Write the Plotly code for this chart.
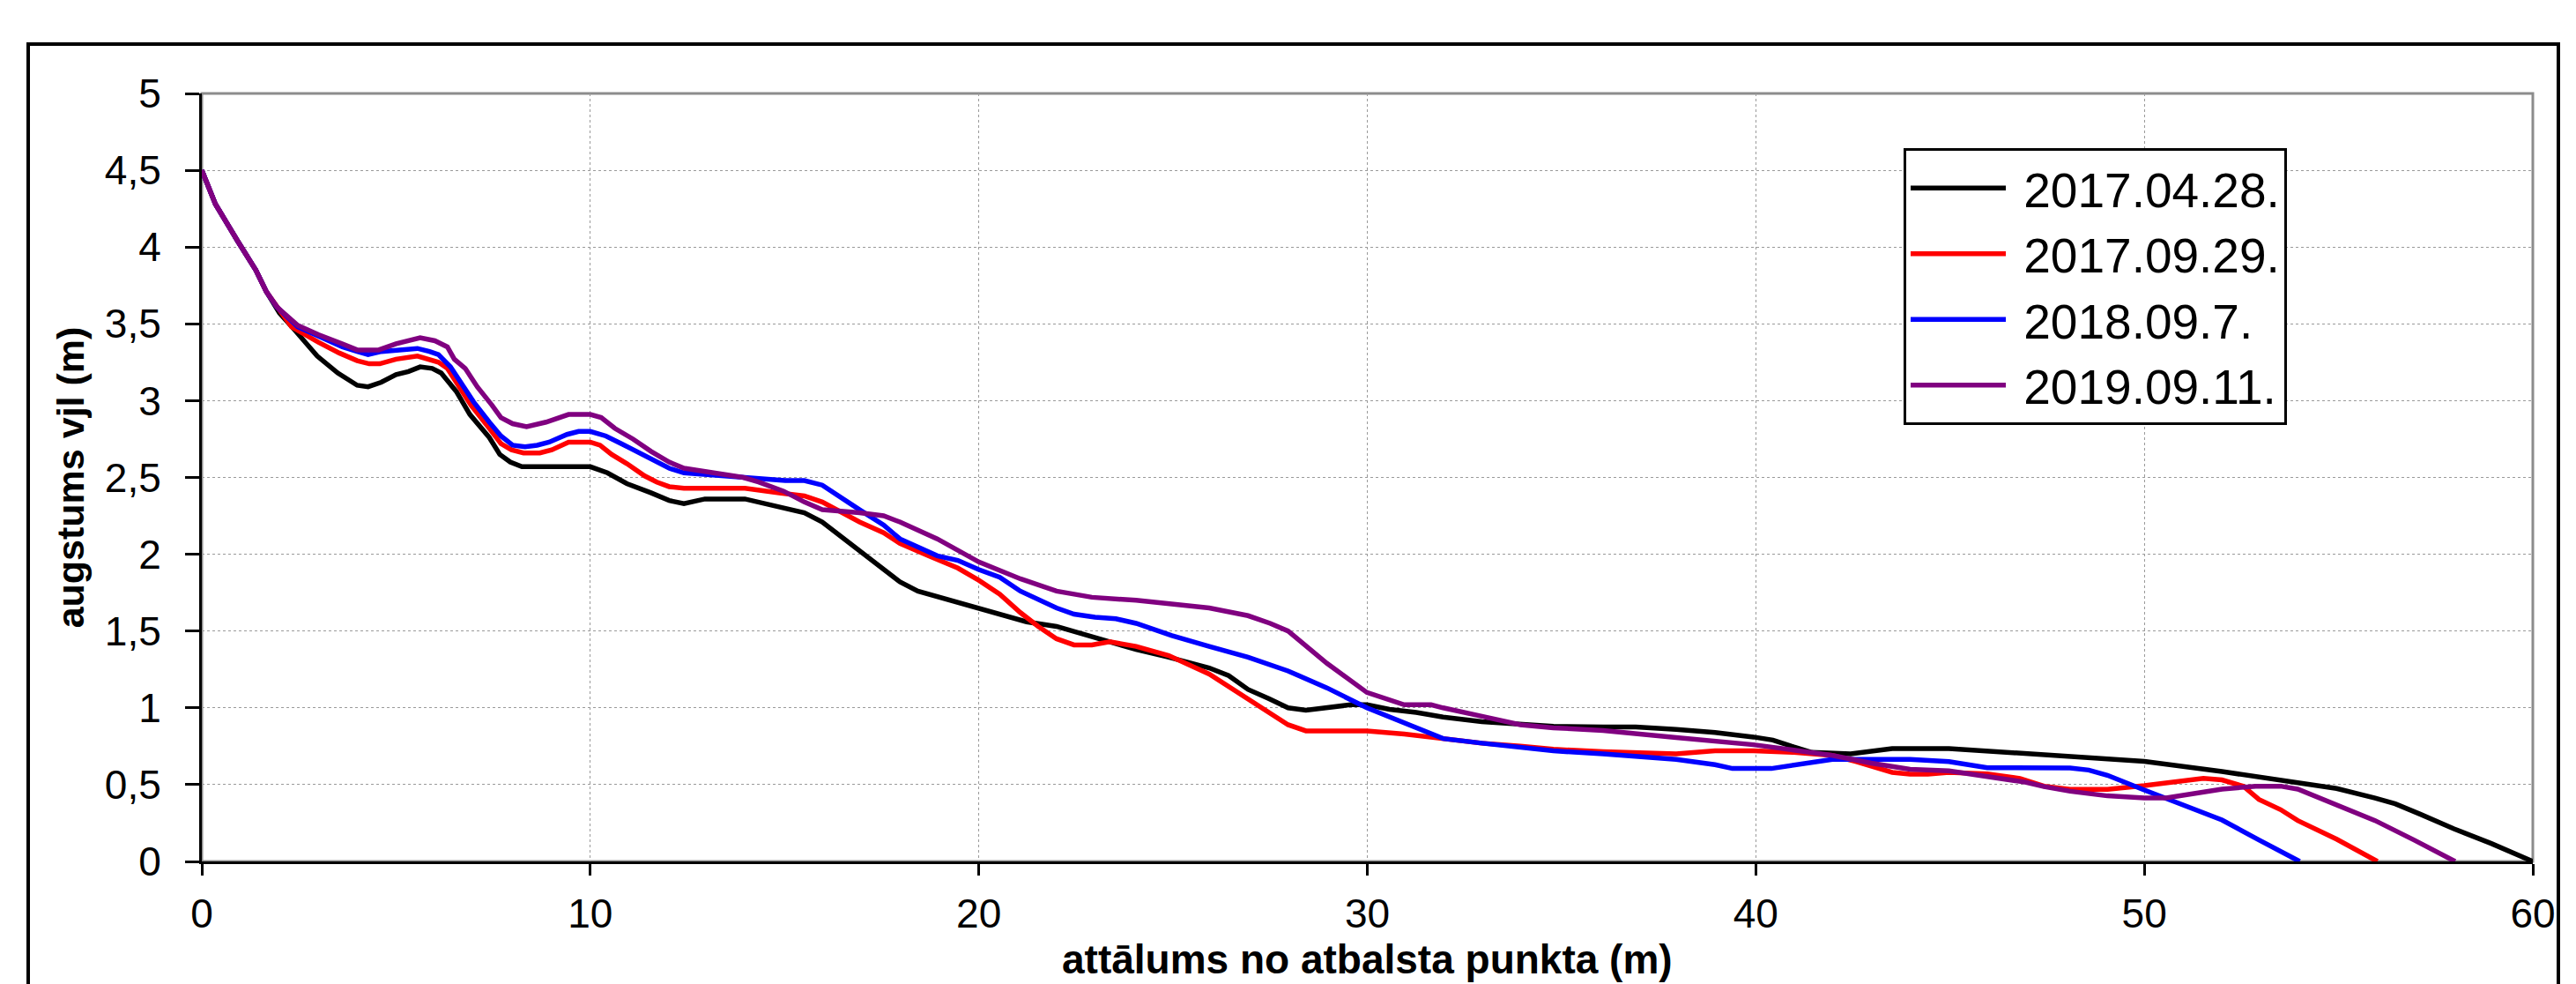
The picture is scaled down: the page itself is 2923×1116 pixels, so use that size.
import plotly.graph_objects as go

# ---------------- data ----------------
series_names = ["2017.04.28.", "2017.09.29.", "2018.09.7.", "2019.09.11."]
series_colors = ["#000000", "#FF0000", "#0000FF", "#800080"]

dist_2017_04 = [0, 0.35, 0.92, 1.39, 1.66, 2.0, 2.39, 2.97, 3.5, 4.0, 4.28, 4.62, 5.0, 5.32, 5.62,
                5.93, 6.16, 6.55, 6.9, 7.4, 7.67, 7.94, 8.24, 10.0, 10.44, 10.94, 11.56, 12.03,
                12.41, 12.95, 13.98, 14.86, 15.51, 15.97, 16.93, 17.97, 18.43, 19.39, 20.0, 20.54,
                21.23, 22.0, 22.91, 24.05, 24.89, 25.93, 26.43, 26.93, 27.46, 27.96, 28.42, 28.96,
                29.57, 29.99, 30.57, 31.26, 31.95, 32.95, 33.94, 34.79, 36.07, 36.91, 37.95, 38.95,
                39.94, 40.44, 40.98, 41.44, 42.44, 43.51, 44.97, 45.96, 46.96, 48.09, 50.0, 52.0,
                53.95, 54.95, 55.94, 56.46, 57.1, 57.97, 58.93, 60.0]
height_2017_04 = [4.5, 4.28, 4.04, 3.85, 3.71, 3.57, 3.46, 3.29, 3.18, 3.10, 3.09, 3.12, 3.17, 3.19, 3.22,
                  3.21, 3.18, 3.06, 2.91, 2.76, 2.65, 2.60, 2.57, 2.57, 2.53, 2.46, 2.40, 2.35,
                  2.33, 2.36, 2.36, 2.31, 2.27, 2.21, 2.02, 1.82, 1.76, 1.69, 1.65, 1.61,
                  1.56, 1.53, 1.46, 1.38, 1.33, 1.26, 1.21, 1.12, 1.06, 1.00, 0.985, 1.00,
                  1.02, 1.02, 0.99, 0.97, 0.94, 0.91, 0.89, 0.88, 0.875, 0.876, 0.86, 0.84,
                  0.81, 0.79, 0.745, 0.71, 0.70, 0.735, 0.735, 0.72, 0.70, 0.68, 0.652, 0.585,
                  0.509, 0.475, 0.413, 0.375, 0.308, 0.212, 0.117, 0.0]

dist_2017_09 = [0, 0.35, 0.92, 1.39, 1.66, 1.93, 2.31, 3.0, 3.54, 4.0, 4.31, 4.58, 5.0, 5.55, 6.09,
                6.32, 6.7, 6.93, 7.4, 7.7, 7.97, 8.28, 8.7, 9.01, 9.44, 10.0, 10.25, 10.55, 10.94,
                11.4, 11.71, 12.03, 12.41, 13.98, 14.86, 15.51, 15.97, 16.93, 17.55, 17.97, 18.7,
                19.46, 20.0, 20.54, 21.07, 21.53, 22.0, 22.45, 22.91, 23.37, 24.05, 24.89, 25.93,
                26.93, 27.96, 28.42, 29.99, 30.95, 31.95, 32.95, 33.94, 34.79, 36.07, 37.95, 38.95,
                39.94, 40.98, 41.97, 42.59, 43.51, 43.97, 44.43, 44.97, 45.96, 46.8, 47.42, 48.09,
                49.05, 50.0, 51.52, 52.0, 52.55, 52.95, 53.51, 53.95, 54.95, 56.0]
height_2017_09 = [4.5, 4.28, 4.04, 3.85, 3.71, 3.61, 3.48, 3.38, 3.31, 3.26, 3.24, 3.24, 3.27, 3.29, 3.25,
                  3.21, 3.06, 2.97, 2.82, 2.72, 2.68, 2.66, 2.66, 2.68, 2.73, 2.73, 2.71, 2.65, 2.59,
                  2.51, 2.47, 2.44, 2.43, 2.43, 2.40, 2.38, 2.34, 2.21, 2.14, 2.07, 1.99,
                  1.91, 1.83, 1.74, 1.62, 1.53, 1.45, 1.41, 1.41, 1.43, 1.40, 1.34, 1.22,
                  1.06, 0.89, 0.85, 0.85, 0.83, 0.80, 0.77, 0.75, 0.73, 0.715, 0.70, 0.72,
                  0.72, 0.71, 0.69, 0.65, 0.58, 0.568, 0.568, 0.58, 0.57, 0.54, 0.49, 0.47,
                  0.47, 0.494, 0.541, 0.531, 0.49, 0.404, 0.337, 0.266, 0.145, 0.0]

dist_2018_09 = [0, 0.35, 0.92, 1.39, 1.66, 1.93, 2.47, 3.08, 3.62, 4.0, 4.28, 4.62, 5.0, 5.55, 5.86,
                6.09, 6.4, 6.78, 7.0, 7.4, 7.7, 8.0, 8.32, 8.63, 8.94, 9.4, 9.7, 10.0, 10.4, 10.8,
                11.4, 12.03, 12.41, 13.94, 15.02, 15.51, 15.97, 16.93, 17.55, 17.97, 18.93, 19.46,
                20.0, 20.54, 21.07, 22.0, 22.45, 22.99, 23.53, 24.05, 24.97, 25.93, 26.93, 27.96,
                28.96, 29.99, 30.95, 31.95, 32.95, 33.94, 34.79, 36.07, 37.95, 38.95, 39.4, 40.4,
                41.44, 41.97, 43.97, 44.97, 45.96, 48.09, 48.57, 49.05, 50.0, 50.96, 52.0, 52.95, 54.0]
height_2018_09 = [4.5, 4.28, 4.04, 3.85, 3.71, 3.61, 3.48, 3.41, 3.35, 3.32, 3.30, 3.32, 3.33, 3.34, 3.32,
                  3.30, 3.22, 3.08, 2.99, 2.86, 2.77, 2.71, 2.70, 2.71, 2.73, 2.78, 2.80, 2.80, 2.77, 2.72,
                  2.64, 2.56, 2.53, 2.50, 2.48, 2.48, 2.45, 2.29, 2.19, 2.10, 1.99, 1.96,
                  1.90, 1.85, 1.76, 1.65, 1.61, 1.59, 1.58, 1.55, 1.47, 1.40, 1.33, 1.24,
                  1.13, 1.00, 0.90, 0.80, 0.77, 0.74, 0.72, 0.70, 0.665, 0.63, 0.605, 0.605,
                  0.64, 0.665, 0.665, 0.65, 0.61, 0.608, 0.595, 0.561, 0.465, 0.375, 0.27, 0.14, 0.0]

dist_2019_09 = [0, 0.35, 0.92, 1.39, 1.66, 1.93, 2.47, 3.0, 3.62, 4.0, 4.55, 5.0, 5.62, 6.0, 6.32,
                6.5, 6.78, 7.09, 7.47, 7.7, 8.0, 8.36, 8.86, 9.44, 10.0, 10.28, 10.63, 11.1, 11.56,
                12.03, 12.41, 13.94, 14.33, 14.98, 15.51, 15.97, 16.93, 17.55, 17.97, 18.93, 20.0,
                21.07, 22.0, 22.91, 24.05, 24.89, 25.93, 26.93, 27.5, 27.96, 28.96, 29.99, 30.95,
                31.64, 31.95, 32.95, 33.94, 34.79, 36.07, 37.95, 39.94, 40.98, 41.97, 42.97, 43.97,
                44.97, 45.96, 46.96, 47.42, 48.09, 49.05, 50.0, 50.56, 52.0, 52.87, 53.51, 53.95,
                54.95, 55.94, 56.94, 58.0]
height_2019_09 = [4.5, 4.28, 4.04, 3.85, 3.71, 3.61, 3.49, 3.43, 3.37, 3.33, 3.33, 3.37, 3.41, 3.39, 3.35,
                  3.27, 3.21, 3.09, 2.97, 2.89, 2.85, 2.83, 2.86, 2.91, 2.91, 2.89, 2.82, 2.75, 2.67,
                  2.60, 2.56, 2.50, 2.47, 2.41, 2.34, 2.29, 2.27, 2.25, 2.21, 2.10, 1.95,
                  1.84, 1.76, 1.72, 1.70, 1.68, 1.65, 1.60, 1.55, 1.50, 1.29, 1.10, 1.02,
                  1.02, 1.00, 0.945, 0.89, 0.87, 0.853, 0.806, 0.76, 0.725, 0.69, 0.64, 0.60,
                  0.59, 0.55, 0.515, 0.487, 0.457, 0.427, 0.413, 0.413, 0.471, 0.49, 0.49, 0.471,
                  0.37, 0.266, 0.14, 0.0]

x_tick_vals = [0, 10, 20, 30, 40, 50, 60]
x_tick_text = ["0", "10", "20", "30", "40", "50", "60"]
y_tick_vals = [0, 0.5, 1, 1.5, 2, 2.5, 3, 3.5, 4, 4.5, 5]
y_tick_text = ["0", "0,5", "1", "1,5", "2", "2,5", "3", "3,5", "4", "4,5", "5"]

x_title = "attālums no atbalsta punkta (m)"
y_title = "augstums vjl (m)"

# ---------------- figure ----------------
FONT = "Liberation Sans, Arial, sans-serif"
W, H = 2923, 1116
# the page body adds an 8px offset, margins compensate for it
ML, MR, MT, MB = 221, 57, 98, 147
pw, ph = W - ML - MR, H - MT - MB

xs = [dist_2017_04, dist_2017_09, dist_2018_09, dist_2019_09]
ys = [height_2017_04, height_2017_09, height_2018_09, height_2019_09]

fig = go.Figure()
for name, color, x, y in zip(series_names, series_colors, xs, ys):
    # a non-breaking space gives the gap between legend line and label
    fig.add_trace(go.Scatter(x=x, y=y, mode="lines", name="\u00a0" + name,
                             line=dict(color=color, width=5.5)))

grid = dict(showgrid=True, gridcolor="#9a9a9a", gridwidth=1, griddash="dot")

fig.update_layout(
    width=W, height=H,
    margin=dict(l=ML, r=MR, t=MT, b=MB, autoexpand=False),
    paper_bgcolor="white", plot_bgcolor="white",
    font=dict(family=FONT, color="black"),
    showlegend=True,
    legend=dict(
        x=(2152 - ML) / pw, y=(H - MB - 160) / ph,
        xanchor="left", yanchor="top",
        bgcolor="white", bordercolor="black", borderwidth=3,
        font=dict(family=FONT, size=55, color="black"),
        itemwidth=108, tracegroupgap=0,
    ),
    xaxis=dict(
        range=[0, 60], tickvals=x_tick_vals, ticktext=x_tick_text,
        ticks="outside", ticklen=13, tickwidth=3, tickcolor="black",
        showline=True, linecolor="black", linewidth=3, zeroline=False,
        tickfont=dict(family=FONT, size=46, color="black"),
        ticklabelstandoff=4,
        automargin=False, **grid,
    ),
    yaxis=dict(
        range=[0, 5], tickvals=y_tick_vals, ticktext=y_tick_text,
        ticks="outside", ticklen=16, tickwidth=3, tickcolor="black",
        showline=True, linecolor="black", linewidth=3, zeroline=False,
        tickfont=dict(family=FONT, size=46, color="black"),
        ticklabelstandoff=18,
        title=dict(text=y_title, standoff=10,
                   font=dict(family=FONT, size=43, color="black", weight="bold")),
        automargin=False, **grid,
    ),
    # overlay axes only to draw the inner half of the crossing tick marks
    xaxis2=dict(overlaying="x", anchor="y", side="bottom", range=[0, 60],
                tickvals=x_tick_vals, ticks="inside", ticklen=12, tickwidth=3,
                tickcolor="black", showticklabels=False, showgrid=False,
                showline=False, zeroline=False),
    yaxis2=dict(overlaying="y", anchor="x", side="left", range=[0, 5],
                tickvals=y_tick_vals, ticks="inside", ticklen=14, tickwidth=3,
                tickcolor="black", showticklabels=False, showgrid=False,
                showline=False, zeroline=False),
)

# x-axis title placed as an annotation so it sits just above the page edge
fig.add_annotation(text="<b>" + x_title + "</b>", xref="paper", yref="paper",
                   x=0.5, y=(H - MB - 1080) / ph, xanchor="center", yanchor="middle",
                   showarrow=False, font=dict(family=FONT, size=46, color="black"))

# grey plot-area frame (top/right) and the black outer chart border
fig.add_shape(type="rect", xref="x domain", yref="y domain", x0=0, x1=1, y0=0, y1=1,
              line=dict(color="#8c8c8c", width=3), layer="below")
fig.add_shape(type="rect", xref="paper", yref="paper",
              x0=(24 - ML) / pw, x1=(2895 - ML) / pw,
              y0=(H - MB - 1160) / ph, y1=(H - MB - 42) / ph,
              line=dict(color="black", width=4), layer="above")

fig.write_html("out.html")
